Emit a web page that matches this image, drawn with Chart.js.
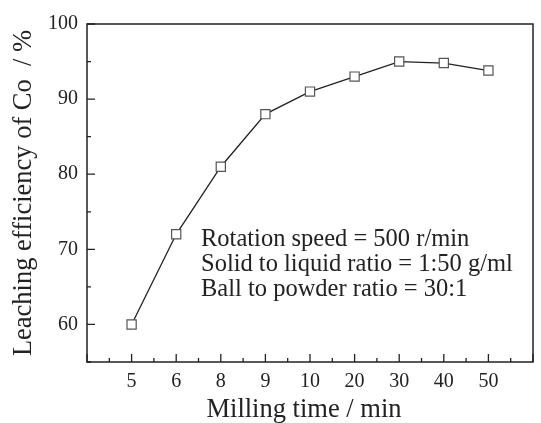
<!DOCTYPE html>
<html>
<head>
<meta charset="utf-8">
<script src="https://cdn.jsdelivr.net/npm/chart.js@4/dist/chart.umd.min.js"></script>
<style>
  body { margin: 0; background: #fff; }
  canvas { display: block; }
</style>
</head>
<body>
<canvas id="chart" width="541" height="423"></canvas>
<script>
// milling time categories, evenly spaced on the axis
const millingTime = ['5', '6', '8', '9', '10', '20', '30', '40', '50'];
const leaching = [60, 72, 81, 88, 91, 93, 95, 94.8, 93.8];

const yMin = 55, yMax = 100;

const noteLines = [
  'Rotation speed = 500 r/min',
  'Solid to liquid ratio = 1:50 g/ml',
  'Ball to powder ratio = 30:1'
];

const ink = '#222';
const serif = '"Liberation Serif", "Times New Roman", serif';

// frame, inward ticks, x title and the condition note
const framePlugin = {
  id: 'frame',
  afterDraw(chart) {
    const ctx = chart.ctx;
    const a = chart.chartArea;
    const xs = chart.scales.x, ys = chart.scales.y;
    ctx.save();
    ctx.strokeStyle = ink;
    ctx.lineWidth = 1.5;
    ctx.strokeRect(a.left, a.top, a.right - a.left, a.bottom - a.top);

    ctx.lineWidth = 1.3;
    ctx.beginPath();
    xs.ticks.forEach(t => {
      const px = xs.getPixelForValue(t.value);
      const len = Number.isInteger(t.value) ? 8 : 4;
      ctx.moveTo(px, a.bottom);
      ctx.lineTo(px, a.bottom - len);
    });
    ys.ticks.forEach(t => {
      const py = ys.getPixelForValue(t.value);
      const len = t.value % 10 === 0 ? 8 : 4;
      ctx.moveTo(a.left, py);
      ctx.lineTo(a.left + len, py);
    });
    ctx.stroke();

    ctx.fillStyle = ink;
    ctx.font = '24.5px ' + serif;
    ctx.textBaseline = 'alphabetic';
    noteLines.forEach((s, i) => ctx.fillText(s, 201, 246 + i * 25));

    ctx.font = '26.5px ' + serif;
    ctx.textAlign = 'center';
    ctx.textBaseline = 'middle';
    ctx.fillText('Milling time / min', 304, 410);
    ctx.restore();
  }
};

new Chart(document.getElementById('chart'), {
  type: 'line',
  data: {
    datasets: [{
      data: leaching.map((v, i) => ({ x: i + 1, y: v })),
      borderColor: ink,
      borderWidth: 1.3,
      tension: 0,
      pointStyle: 'rect',
      pointRadius: 6.5,
      pointBorderWidth: 1.2,
      pointBorderColor: '#555',
      pointBackgroundColor: '#fff'
    }]
  },
  options: {
    responsive: false,
    animation: false,
    layout: { padding: { top: 24, right: 1, left: 0, bottom: 0 } },
    plugins: {
      legend: { display: false },
      tooltip: { enabled: false }
    },
    scales: {
      x: {
        type: 'linear',
        min: 0,
        max: 10,
        afterFit(scale) { scale.height = 61; },
        border: { display: false },
        grid: { display: false, drawTicks: false },
        ticks: {
          stepSize: 0.5,
          autoSkip: false,
          maxRotation: 0,
          padding: 8,
          color: ink,
          font: { family: serif, size: 20 },
          callback: v => (Number.isInteger(v) && v >= 1 && v <= millingTime.length) ? millingTime[v - 1] : ''
        }
      },
      y: {
        min: yMin,
        max: yMax,
        afterFit(scale) { scale.width = 87; },
        border: { display: false },
        grid: { display: false, drawTicks: false },
        ticks: {
          stepSize: 5,
          padding: 9,
          color: ink,
          font: { family: serif, size: 20 },
          callback: v => v % 10 === 0 ? v : ''
        },
        title: {
          display: true,
          text: 'Leaching efficiency of Co  / %',
          color: ink,
          font: { family: serif, size: 26.5, lineHeight: 1 },
          padding: { top: 11, bottom: 0 }
        }
      }
    }
  },
  plugins: [framePlugin]
});
</script>
</body>
</html>
